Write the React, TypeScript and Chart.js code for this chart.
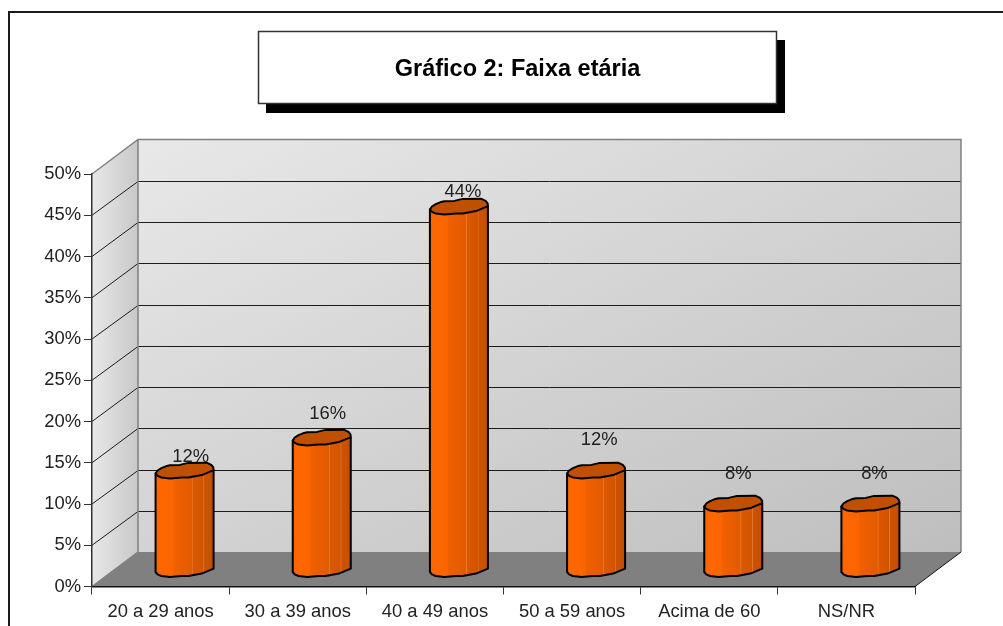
import React, { useEffect, useRef } from "react";
import { Chart, registerables } from "chart.js";

Chart.register(...registerables);

// Age bands and the share of respondents in each
const categories = ["20 a 29 anos", "30 a 39 anos", "40 a 49 anos", "50 a 59 anos", "Acima de 60", "NS/NR"];
const shares = [12, 16, 44, 12, 8, 8];
const chartTitle = "Gráfico 2: Faixa etária";

const fontFamily = '"Liberation Sans", Arial, sans-serif';
const labelFont = `18.4px ${fontFamily}`;
const titleFont = `bold 23.5px ${fontFamily}`;

// Oblique projection of the chart box
const DEPTH_X = 46;
const DEPTH_Y = -34.5;
const BAR_SHIFT_X = 24;
const BAR_SHIFT_Y = -17;

// Hand-placed value labels: offset from the top of each cylinder
const labelShift: [number, number][] = [
  [6, -14],
  [6, -24],
  [4, -15],
  [3, -31],
  [5, -30],
  [4, -30],
];

// Slightly irregular cap outline, relative to its centre (x in half-widths, y in px)
const capUpper: [number, number][] = [
  [-1, 3], [-0.93, 0], [-0.8, -2.4], [-0.65, -4.2], [-0.5, -5.3], [-0.16, -5.6], [0.13, -7.6], [0.76, -7.8], [0.92, -5.6], [0.99, -3.2], [1, -0.3],
];
const capLower: [number, number][] = [
  [1, -0.3], [0.59, 4.6], [0.13, 7], [-0.1, 7], [-0.5, 8], [-0.8, 7], [-0.93, 5.4], [-1, 3],
];

const bodyBands: [number, string][] = [
  [0, "#f56200"], [0.05, "#ff6600"], [0.3, "#fb6500"], [0.32, "#f06000"], [0.5, "#e85d00"],
  [0.62, "#e25b00"], [0.63, "#e97d35"], [0.645, "#dc5800"], [0.82, "#d25400"], [0.83, "#dc7c38"],
  [0.845, "#cc5200"], [0.93, "#c95100"], [1, "#bd4c00"],
];

function placed(shape: [number, number][], cx: number, cy: number, half: number): [number, number][] {
  return shape.map(([u, v]) => [cx + u * half, cy + v] as [number, number]);
}

function drawCylinder(ctx: CanvasRenderingContext2D, cx: number, topY: number, baseY: number, half: number) {
  const grad = ctx.createLinearGradient(cx - half, 0, cx + half, 0);
  bodyBands.forEach(([o, c]) => grad.addColorStop(o, c));

  // body: down the right side, along the lower rim, back up the left side
  const rim = placed(capLower, cx, baseY, half);
  ctx.beginPath();
  ctx.moveTo(cx + half, topY - 0.3);
  rim.forEach(([x, y]) => ctx.lineTo(x, y));
  ctx.lineTo(cx - half, topY + 3);
  ctx.closePath();
  ctx.fillStyle = grad;
  ctx.fill();
  ctx.strokeStyle = "#000";
  ctx.lineWidth = 2;
  ctx.lineJoin = "round";
  ctx.stroke();

  // cap
  ctx.beginPath();
  [...placed(capUpper, cx, topY, half), ...placed(capLower, cx, topY, half)].forEach(([x, y], i) => {
    if (i === 0) ctx.moveTo(x, y);
    else ctx.lineTo(x, y);
  });
  ctx.closePath();
  ctx.fillStyle = "#c05000";
  ctx.fill();
  ctx.stroke();
}

const boxPlugin = {
  id: "chartBox",
  beforeDraw(chart: any) {
    const { ctx, chartArea: a, scales } = chart;
    const yScale = scales.y;
    ctx.save();

    // outer frame
    ctx.strokeStyle = "#1a1a1a";
    ctx.lineWidth = 2;
    ctx.beginPath();
    ctx.moveTo(9, 626);
    ctx.lineTo(9, 12);
    ctx.lineTo(1003, 12);
    ctx.stroke();

    // title box and its shadow
    ctx.fillStyle = "#000";
    ctx.fillRect(266, 40, 519, 73);
    ctx.fillStyle = "#fff";
    ctx.fillRect(258, 31, 519, 73);
    ctx.strokeStyle = "#333";
    ctx.lineWidth = 1.5;
    ctx.strokeRect(258.5, 31.5, 518, 72);
    ctx.fillStyle = "#000";
    ctx.font = titleFont;
    ctx.textAlign = "center";
    ctx.textBaseline = "middle";
    ctx.fillText(chartTitle, 517.5, 69.5);

    // back wall, shaded corner to corner
    const backL = a.left + DEPTH_X;
    const backR = a.right + DEPTH_X;
    const backT = a.top + DEPTH_Y;
    const backB = a.bottom + DEPTH_Y;
    const w = backR - backL;
    const h = backB - backT;
    const norm = Math.hypot(w, h);
    const span = (2 * w * h) / norm;
    const wall = ctx.createLinearGradient(backL, backT, backL + (span * h) / norm, backT + (span * w) / norm);
    wall.addColorStop(0, "#e8e8e8");
    wall.addColorStop(1, "#bebebe");
    ctx.fillStyle = wall;
    ctx.fillRect(backL, backT, w, h);

    // side wall
    const side = ctx.createLinearGradient(a.left, 0, backL, 0);
    side.addColorStop(0, "#e8e8e8");
    side.addColorStop(1, "#c8c8c8");
    ctx.fillStyle = side;
    ctx.beginPath();
    ctx.moveTo(a.left, a.top);
    ctx.lineTo(backL, backT);
    ctx.lineTo(backL, backB);
    ctx.lineTo(a.left, a.bottom);
    ctx.closePath();
    ctx.fill();

    // floor
    ctx.fillStyle = "#808080";
    ctx.beginPath();
    ctx.moveTo(a.left, a.bottom);
    ctx.lineTo(backL, backB);
    ctx.lineTo(backR, backB);
    ctx.lineTo(a.right, a.bottom);
    ctx.closePath();
    ctx.fill();

    // grid lines wrapping the side and back walls
    ctx.strokeStyle = "#1c1c1c";
    ctx.lineWidth = 1;
    yScale.ticks.forEach((t: any) => {
      if (t.value === 0 || t.value === 50) return;
      const y = yScale.getPixelForValue(t.value);
      const backY = Math.round(y + DEPTH_Y) + 0.5;
      ctx.beginPath();
      ctx.moveTo(a.left, y);
      ctx.lineTo(backL, backY);
      ctx.lineTo(backR, backY);
      ctx.stroke();
    });

    // wall outlines
    ctx.strokeStyle = "#808080";
    ctx.lineWidth = 1.5;
    ctx.beginPath();
    ctx.moveTo(a.left, a.top);
    ctx.lineTo(backL, backT);
    ctx.lineTo(backR, backT);
    ctx.lineTo(backR, backB);
    ctx.moveTo(backL, backT);
    ctx.lineTo(backL, backB);
    ctx.lineTo(a.left, a.bottom);
    ctx.stroke();

    // right edge of the floor
    ctx.strokeStyle = "#111";
    ctx.lineWidth = 1;
    ctx.beginPath();
    ctx.moveTo(a.right, a.bottom);
    ctx.lineTo(backR, backB);
    ctx.stroke();
    ctx.restore();
  },
  beforeDatasetDraw(chart: any, args: any) {
    const { ctx } = chart;
    const meta = chart.getDatasetMeta(args.index);
    ctx.save();
    meta.data.forEach((bar: any, i: number) => {
      const cx = bar.x + BAR_SHIFT_X;
      const topY = bar.y + BAR_SHIFT_Y;
      drawCylinder(ctx, cx, topY, bar.base + BAR_SHIFT_Y, bar.width / 2);
      const [lx, ly] = labelShift[i];
      ctx.fillStyle = "#222";
      ctx.font = labelFont;
      ctx.textAlign = "center";
      ctx.textBaseline = "middle";
      ctx.fillText(`${shares[i]}%`, cx + lx, topY + ly);
    });
    ctx.restore();
    return false;
  },
};

export default function App() {
  const canvasRef = useRef<HTMLCanvasElement>(null);

  useEffect(() => {
    const chart = new Chart(canvasRef.current!, {
      type: "bar",
      data: {
        labels: categories,
        datasets: [
          {
            label: "Faixa etária",
            data: shares,
            backgroundColor: "#ff6600",
            borderColor: "#000",
            barPercentage: 0.423,
            categoryPercentage: 1,
          },
        ],
      },
      options: {
        responsive: false,
        animation: false,
        layout: { padding: { left: 0, top: 174, right: 88, bottom: 0 } },
        plugins: {
          legend: { display: false },
          title: { display: false },
          tooltip: { enabled: false },
        },
        scales: {
          x: {
            grid: { drawOnChartArea: false, drawTicks: true, tickLength: 8, color: "#333", offset: true },
            border: { display: true, color: "#111", width: 1.5 },
            ticks: { color: "#222", font: { family: fontFamily, size: 18.4 }, padding: 6, maxRotation: 0, autoSkip: false },
            afterFit: (s: any) => { s.height = 39.5; },
          },
          y: {
            min: 0,
            max: 50,
            grid: { drawOnChartArea: false, drawTicks: true, tickLength: 8, color: "#333" },
            border: { display: true, color: "#333", width: 1.5 },
            ticks: {
              stepSize: 5,
              color: "#222",
              font: { family: fontFamily, size: 18.4 },
              padding: 3,
              callback: (v: any) => `${v}%`,
            },
            afterFit: (s: any) => { s.width = 92; },
          },
        },
      },
      plugins: [boxPlugin],
    } as any);
    return () => chart.destroy();
  }, []);

  return (
    <canvas
      ref={canvasRef}
      width={1003}
      height={626}
      style={{ position: "fixed", left: 0, top: 0, display: "block", background: "#fff" }}
    />
  );
}
